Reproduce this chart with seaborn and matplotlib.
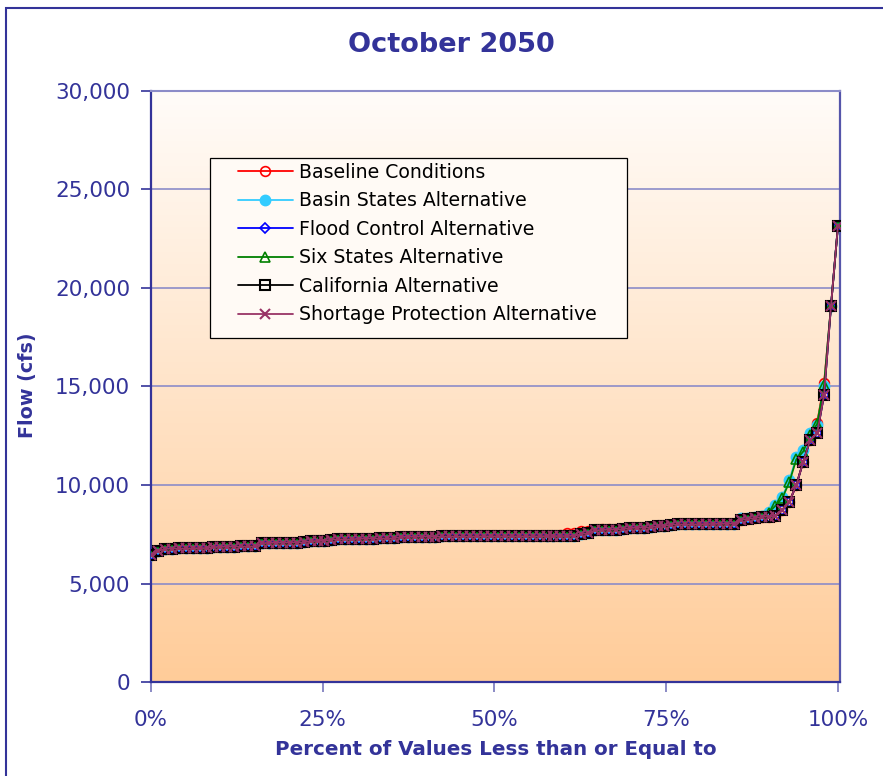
import numpy as np
import pandas as pd
import matplotlib
matplotlib.use("Agg")
import matplotlib.pyplot as plt
from matplotlib.colors import LinearSegmentedColormap
from matplotlib.patches import Rectangle
from matplotlib.ticker import FuncFormatter, PercentFormatter
import seaborn as sns


# Monthly flow values (cfs), sorted low -> high, one value per trace
baseline = [
    6450, 6650, 6760, 6770, 6780, 6780, 6790, 6800, 6800, 6850,
    6860, 6870, 6870, 6880, 6880, 6890, 7050, 7060, 7070, 7070,
    7080, 7080, 7090, 7150, 7160, 7170, 7230, 7240, 7240, 7250,
    7270, 7280, 7280, 7290, 7290, 7300, 7360, 7370, 7370, 7380,
    7380, 7380, 7390, 7390, 7390, 7390, 7390, 7400, 7400, 7400,
    7400, 7400, 7400, 7400, 7400, 7400, 7400, 7410, 7410, 7480,
    7540, 7580, 7650, 7680, 7740, 7760, 7770, 7780, 7760, 7820,
    7830, 7840, 7850, 7910, 7930, 7990, 8000, 8000, 8010, 8010,
    8020, 8020, 8030, 8030, 8040, 8220, 8290, 8320, 8380, 8400,
    8440, 8730, 9150, 10000, 11180, 12280, 13160, 15160, 19090, 23150,
]
basin_states = [
    6450, 6650, 6760, 6770, 6780, 6780, 6790, 6800, 6800, 6850,
    6860, 6870, 6870, 6880, 6880, 6890, 7050, 7060, 7070, 7070,
    7080, 7080, 7090, 7150, 7160, 7170, 7230, 7240, 7240, 7250,
    7270, 7280, 7280, 7290, 7290, 7300, 7360, 7370, 7370, 7380,
    7380, 7380, 7390, 7390, 7390, 7390, 7390, 7400, 7400, 7400,
    7400, 7400, 7400, 7400, 7400, 7400, 7400, 7410, 7410, 7410,
    7410, 7420, 7510, 7560, 7700, 7720, 7730, 7740, 7760, 7820,
    7830, 7840, 7850, 7910, 7930, 7990, 8000, 8000, 8010, 8010,
    8020, 8020, 8030, 8030, 8040, 8300, 8350, 8380, 8450, 8645,
    8985, 9410, 10250, 11400, 11780, 12620, 13050, 15000, 19090, 23150,
]
flood_control = [
    6450, 6650, 6760, 6770, 6780, 6780, 6790, 6800, 6800, 6850,
    6860, 6870, 6870, 6880, 6880, 6890, 7050, 7060, 7070, 7070,
    7080, 7080, 7090, 7150, 7160, 7170, 7230, 7240, 7240, 7250,
    7270, 7280, 7280, 7290, 7290, 7300, 7360, 7370, 7370, 7380,
    7380, 7380, 7390, 7390, 7390, 7390, 7390, 7400, 7400, 7400,
    7400, 7400, 7400, 7400, 7400, 7400, 7400, 7410, 7410, 7410,
    7410, 7420, 7510, 7560, 7700, 7720, 7730, 7740, 7760, 7820,
    7830, 7840, 7850, 7910, 7930, 7990, 8000, 8000, 8010, 8010,
    8020, 8020, 8030, 8030, 8040, 8220, 8290, 8320, 8380, 8400,
    8440, 8730, 9150, 10000, 11180, 12280, 12620, 14570, 19090, 23150,
]
six_states = [
    6450, 6650, 6760, 6770, 6780, 6780, 6790, 6800, 6800, 6850,
    6860, 6870, 6870, 6880, 6880, 6890, 7050, 7060, 7070, 7070,
    7080, 7080, 7090, 7150, 7160, 7170, 7230, 7240, 7240, 7250,
    7270, 7280, 7280, 7290, 7290, 7300, 7360, 7370, 7370, 7380,
    7380, 7380, 7390, 7390, 7390, 7390, 7390, 7400, 7400, 7400,
    7400, 7400, 7400, 7400, 7400, 7400, 7400, 7410, 7410, 7410,
    7410, 7420, 7510, 7560, 7700, 7720, 7730, 7740, 7760, 7820,
    7830, 7840, 7850, 7910, 7930, 7990, 8000, 8000, 8010, 8010,
    8020, 8020, 8030, 8030, 8040, 8220, 8290, 8320, 8380, 8600,
    8950, 9350, 10150, 11300, 11700, 12550, 13100, 15100, 19090, 23150,
]
california = [
    6450, 6650, 6760, 6770, 6780, 6780, 6790, 6800, 6800, 6850,
    6860, 6870, 6870, 6880, 6880, 6890, 7050, 7060, 7070, 7070,
    7080, 7080, 7090, 7150, 7160, 7170, 7230, 7240, 7240, 7250,
    7270, 7280, 7280, 7290, 7290, 7300, 7360, 7370, 7370, 7380,
    7380, 7380, 7390, 7390, 7390, 7390, 7390, 7400, 7400, 7400,
    7400, 7400, 7400, 7400, 7400, 7400, 7400, 7410, 7410, 7410,
    7410, 7420, 7510, 7560, 7700, 7720, 7730, 7740, 7760, 7820,
    7830, 7840, 7850, 7910, 7930, 7990, 8000, 8000, 8010, 8010,
    8020, 8020, 8030, 8030, 8040, 8220, 8290, 8320, 8380, 8400,
    8440, 8730, 9150, 10000, 11180, 12280, 12620, 14570, 19090, 23150,
]
shortage_protection = [
    6450, 6650, 6760, 6770, 6780, 6780, 6790, 6800, 6800, 6850,
    6860, 6870, 6870, 6880, 6880, 6890, 7050, 7060, 7070, 7070,
    7080, 7080, 7090, 7150, 7160, 7170, 7230, 7240, 7240, 7250,
    7270, 7280, 7280, 7290, 7290, 7300, 7360, 7370, 7370, 7380,
    7380, 7380, 7390, 7390, 7390, 7390, 7390, 7400, 7400, 7400,
    7400, 7400, 7400, 7400, 7400, 7400, 7400, 7410, 7410, 7410,
    7410, 7420, 7510, 7560, 7700, 7720, 7730, 7740, 7760, 7820,
    7830, 7840, 7850, 7910, 7930, 7990, 8000, 8000, 8010, 8010,
    8020, 8020, 8030, 8030, 8040, 8220, 8290, 8320, 8380, 8400,
    8440, 8730, 9150, 10000, 11180, 12280, 12620, 14570, 19090, 23150,
]

series_names = [
    "Baseline Conditions",
    "Basin States Alternative",
    "Flood Control Alternative",
    "Six States Alternative",
    "California Alternative",
    "Shortage Protection Alternative",
]
series_values = [baseline, basin_states, flood_control, six_states,
                 california, shortage_protection]

x_ticks = [0, 0.25, 0.5, 0.75, 1.0]
y_ticks = [0, 5000, 10000, 15000, 20000, 25000, 30000]

NAVY = "#333399"
GRID = "#8C8CC8"

# marker / line style for each series
styles = {
    "Baseline Conditions": dict(color="#FF0000", marker="o", ms=7, mfc="none", mec="#FF0000", mew=1.2),
    "Basin States Alternative": dict(color="#33CCFF", marker="o", ms=7.5, mfc="#33CCFF", mec="#33CCFF", mew=1.0),
    "Flood Control Alternative": dict(color="#0000FF", marker="D", ms=5, mfc="none", mec="#0000FF", mew=1.2),
    "Six States Alternative": dict(color="#008000", marker="^", ms=7.5, mfc="none", mec="#008000", mew=1.2),
    "California Alternative": dict(color="#000000", marker="s", ms=7, mfc="none", mec="#000000", mew=1.5),
    "Shortage Protection Alternative": dict(color="#993366", marker="x", ms=7, mfc="#993366", mec="#993366", mew=1.5),
}

rows = []
for name, vals in zip(series_names, series_values):
    n = len(vals)
    for rank, v in enumerate(vals):
        rows.append({"series": name, "pct": rank / (n - 1), "flow": v})
df = pd.DataFrame(rows)

sns.set_style("white")
plt.rcParams["font.family"] = ["DejaVu Sans"]

W, H = 883, 776
fig = plt.figure(figsize=(W / 100, H / 100), dpi=100)
fig.patch.set_facecolor("white")
ax = fig.add_axes([151 / W, 1 - 682 / H, 689 / W, 591 / H])

# peach gradient plot background
cmap = LinearSegmentedColormap.from_list("peach", ["#FFCC99", "#FFFCF9"])
grad = np.linspace(0, 1, 256).reshape(-1, 1)
ax.imshow(grad, cmap=cmap, aspect="auto", origin="lower",
          extent=[0, 1.003, 0, 30000], zorder=0)

for name in series_names:
    sub = df[df["series"] == name]
    st = styles[name]
    sns.lineplot(data=sub, x="pct", y="flow", ax=ax, label=name,
                 color=st["color"], marker=st["marker"], markersize=st["ms"],
                 markerfacecolor=st["mfc"], markeredgecolor=st["mec"],
                 markeredgewidth=st["mew"], linewidth=1.3, zorder=3)

ax.set_xlim(0, 1.003)
ax.set_ylim(0, 30000)
ax.set_xticks(x_ticks)
ax.set_yticks(y_ticks)
ax.xaxis.set_major_formatter(PercentFormatter(1.0, decimals=0))
ax.yaxis.set_major_formatter(FuncFormatter(lambda v, p: f"{int(v):,}"))

ax.grid(False)
for yv in y_ticks[1:-1]:
    ax.axhline(yv, color=GRID, lw=1.2, zorder=1)

for side in ["left", "bottom", "right"]:
    ax.spines[side].set_color(NAVY)
    ax.spines[side].set_linewidth(1.6)
ax.spines["right"].set_color("#5555AA")
ax.spines["top"].set_color(GRID)
ax.spines["top"].set_linewidth(1.5)

ax.tick_params(axis="y", colors=NAVY, labelcolor=NAVY, labelsize=15.5,
               length=7, width=1.2, pad=8, direction="out", left=True)
ax.tick_params(axis="x", colors="#7777BB", labelcolor=NAVY, labelsize=15.5,
               length=7, width=1.2, pad=13, direction="out", bottom=True)

ax.set_xlabel("Percent of Values Less than or Equal to", fontsize=14.3,
              fontweight="bold", color=NAVY)
ax.xaxis.set_label_coords(0.5, -0.115)
ax.xaxis.label.set_va("center")
ax.set_ylabel("Flow (cfs)", fontsize=13.8, fontweight="bold", color=NAVY)
ax.yaxis.set_label_coords(-0.179, 0.502)
ax.yaxis.label.set_va("center")

ax.set_title("October 2050", fontsize=19.5, fontweight="bold", color=NAVY,
             x=0.4354, y=1.0525, va="baseline")

# legend box drawn at figure level so it sits over the gridlines
handles, labels = ax.get_legend_handles_labels()
ax.get_legend().remove()
fig.add_artist(Rectangle((210 / W, 1 - 338 / H), 417 / W, 180 / H,
                         transform=fig.transFigure, facecolor="#FFFAF5",
                         edgecolor="black", linewidth=0.9, zorder=3))
fig.legend(handles, labels, loc="upper left",
           bbox_to_anchor=(238 / W, 1 - 163 / H),
           bbox_transform=fig.transFigure, frameon=False, fontsize=13.6,
           labelcolor="black",
           handlelength=2.9, handletextpad=0.35, labelspacing=0.5,
           borderpad=0, borderaxespad=0).set_zorder(5)

# outer chart border
fig.add_artist(Rectangle((6 / W, -0.1), 1.2, 1 - 8 / H + 0.1,
                         transform=fig.transFigure, fill=False,
                         edgecolor=NAVY, linewidth=1.5, zorder=6))

fig.savefig("out.png", dpi=100)
